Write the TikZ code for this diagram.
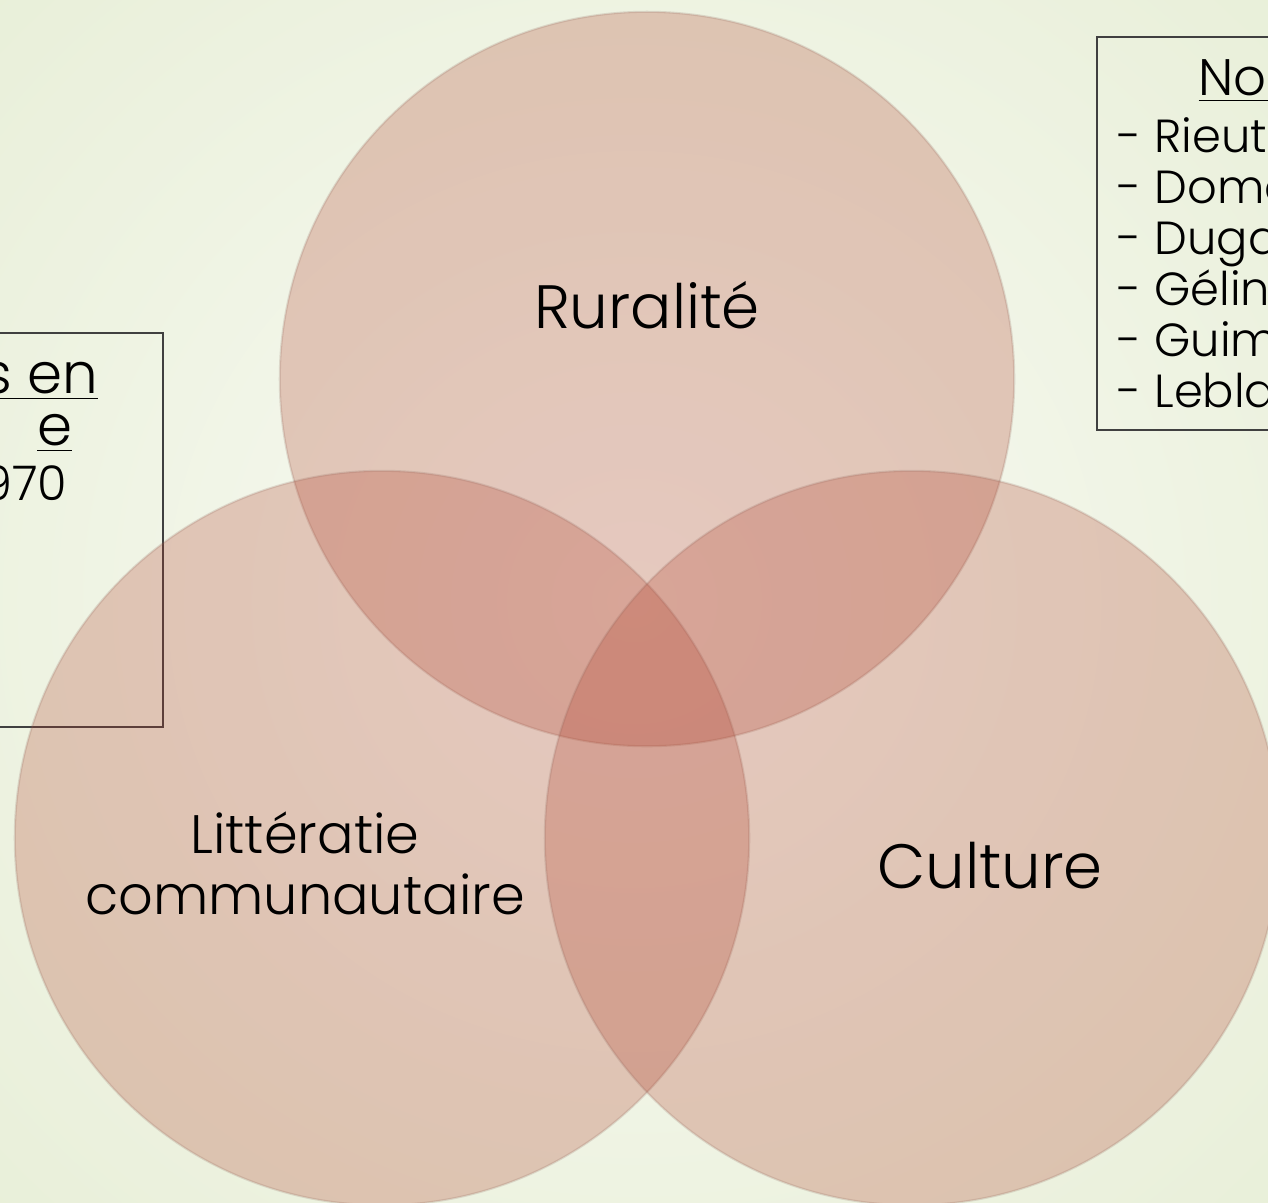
\documentclass[tikz,border=0pt]{standalone}
\usepackage{fontspec}
\setmainfont{Poppins}[UprightFont={* Light}]
\definecolor{setred}{RGB}{176,62,42}
\definecolor{setedge}{RGB}{140,100,90}
\definecolor{bginner}{RGB}{249,250,244}
\definecolor{bgouter}{RGB}{232,239,216}
\begin{document}
\begin{tikzpicture}[x=0.01cm,y=-0.01cm]
\tikzstyle{set}=[circle, inner sep=0pt, minimum size=7.34cm, fill=setred, fill opacity=0.26, draw=setedge, draw opacity=0.2, line width=0.6pt]
\tikzstyle{setlabel}=[anchor=base, inner sep=0pt]
\tikzstyle{frame}=[draw=black!75, line width=0.5pt, minimum width=3cm, inner sep=0pt]
\tikzstyle{listitem}=[anchor=base west, inner sep=0pt, font=\fontsize{13.2}{14}\selectfont]

\useasboundingbox (0,0) rectangle (1268,1202);
\clip (0,0) rectangle (1268,1202);
\shade[inner color=bginner, outer color=bgouter] (-300,-300) rectangle (1568,1502);

% text boxes
\node[frame, minimum height=3.94cm] (leftbox) at (13,530) {};
\node[frame, minimum height=3.93cm] (rightbox) at (1247,233.5) {};

\node[anchor=base east, inner sep=0pt, font=\fontsize{16}{17}\selectfont] (lefthead1) at (99,393) {\underline{es en}};
\node[anchor=base east, inner sep=0pt, font=\fontsize{16}{17}\selectfont] (lefthead2) at (73,445) {\underline{e}};
\node[anchor=base east, inner sep=0pt, font=\fontsize{13.6}{14}\selectfont] (leftyear) at (68,500) {970};

\node[anchor=base west, inner sep=0pt, font=\fontsize{14.6}{15}\selectfont] (righthead) at (1198,95) {\underline{Nou}};
\foreach \name [count=\i] in {Rieuto,Domo,Dugas,Géline,Guima,Leblar}
  \node[listitem] (item\i) at (1117,{152+51*(\i-1)}) {- \name};

% circles
\node[set] (rural) at (647,379) {};
\node[set] (litt) at (382,838) {};
\node[set] (cult) at (912,838) {};

\node[setlabel, font=\fontsize{17.4}{18}\selectfont] (ruraltext) at (647,328) {Ruralité};
\node[setlabel, font=\fontsize{15.4}{16}\selectfont] (litttext1) at (305,853) {Littératie};
\node[setlabel, font=\fontsize{15.4}{16}\selectfont] (litttext2) at (305,914) {communautaire};
\node[setlabel, font=\fontsize{17.8}{18}\selectfont] (culttext) at (990,888) {Culture};
\end{tikzpicture}
\end{document}
